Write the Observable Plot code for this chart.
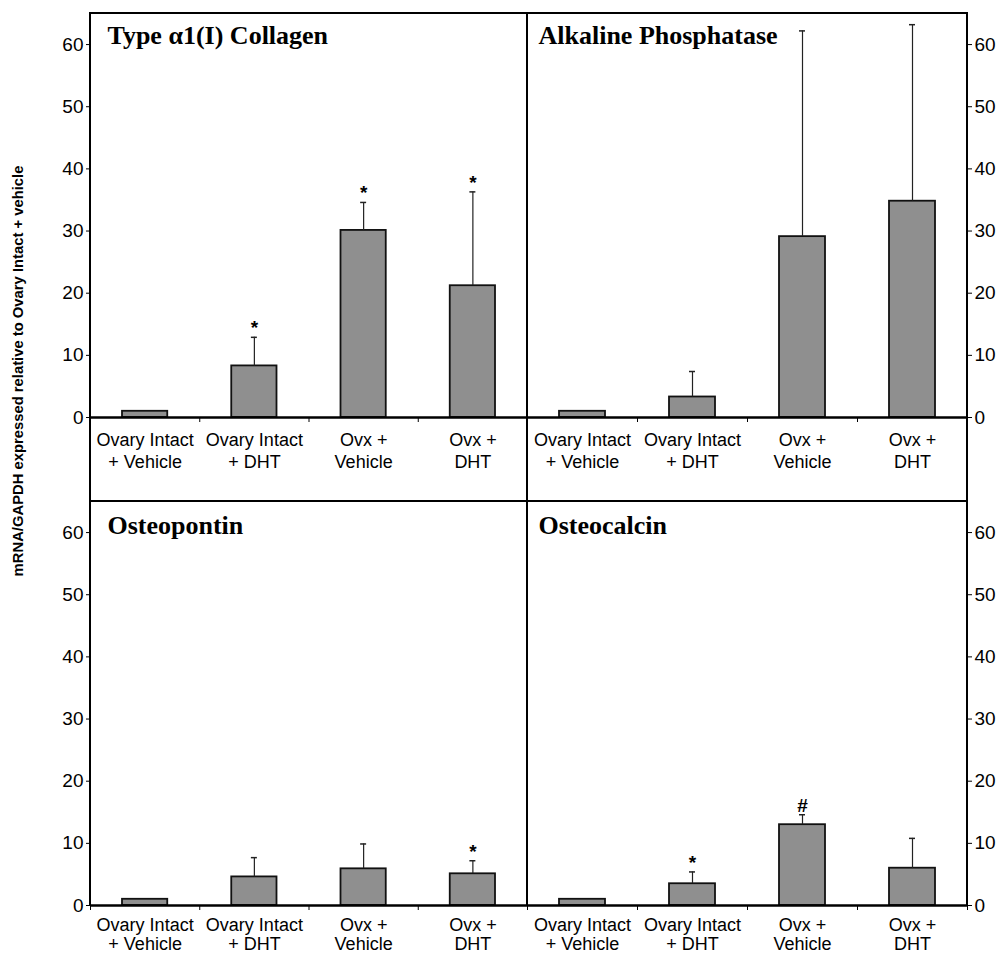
<!DOCTYPE html>
<html><head><meta charset="utf-8">
<script src="https://cdn.jsdelivr.net/npm/d3@7"></script>
<script src="https://cdn.jsdelivr.net/npm/@observablehq/plot@0.6"></script>
<style>
body{margin:0;background:#fff;}
#root{position:relative;width:1000px;height:956px;overflow:hidden;font-family:"Liberation Sans",Arial,sans-serif;}
.panel{position:absolute;}
.line{position:absolute;background:#000;}
#ylabel{position:absolute;left:18px;top:371px;transform:translate(-50%,-50%) rotate(-90deg);white-space:nowrap;font:bold 14.8px "Liberation Sans",Arial,sans-serif;color:#000;}
</style></head><body>
<div id="root">
  <div id="p0" class="panel" style="left:0;top:0"></div>
  <div id="p1" class="panel" style="left:527px;top:0"></div>
  <div id="p2" class="panel" style="left:0;top:491px"></div>
  <div id="p3" class="panel" style="left:527px;top:491px"></div>
  <div class="line" style="left:90px;top:12px;width:878px;height:2px"></div>
  <div class="line" style="left:89px;top:12px;width:2px;height:893px"></div>
  <div class="line" style="left:526px;top:12px;width:2px;height:893px"></div>
  <div class="line" style="left:966px;top:12px;width:2px;height:893px"></div>
  <div class="line" style="left:90px;top:500px;width:878px;height:2px"></div>
  <div id="ylabel">mRNA/GAPDH expressed relative to Ovary Intact + vehicle</div>
</div>
<script>
const groups = ["Ovary Intact\n+ Vehicle", "Ovary Intact\n+ DHT", "Ovx +\nVehicle", "Ovx +\nDHT"];
const titles = ["Type α1(I) Collagen", "Alkaline Phosphatase", "Osteopontin", "Osteocalcin"];
const yTicks = [0, 10, 20, 30, 40, 50, 60];

const collagenMean = [1, 8.3, 30.1, 21.2];
const collagenErr  = [0, 4.6, 4.5, 15.1];
const collagenSig  = ["", "*", "*", "*"];

const alpMean = [1, 3.3, 29.1, 34.8];
const alpErr  = [0, 4.1, 33.1, 28.4];
const alpSig  = ["", "", "", ""];

const opnMean = [1, 4.6, 5.9, 5.1];
const opnErr  = [0, 3.1, 4.0, 2.1];
const opnSig  = ["", "", "", "*"];

const ocnMean = [1, 3.5, 13.0, 6.0];
const ocnErr  = [0, 1.9, 1.6, 4.8];
const ocnSig  = ["", "*", "#", ""];

function panel(title, means, errs, sigs, side, row) {
  const data = groups.map((g, i) => ({i, g, v: means[i], hi: means[i] + errs[i], sig: sigs[i]}));
  const withErr = data.filter(d => d.hi > d.v);
  const isLeft = side === "left";
  const top = row === 0;
  return Plot.plot({
    width: isLeft ? 527 : 473,
    height: top ? 501 : 465,
    marginTop: top ? 13 : 10,
    marginBottom: top ? 84 : 51,
    marginLeft: isLeft ? 90 : 0,
    marginRight: isLeft ? 0 : 33,
    x: {domain: [0, groups.length], label: null},
    y: {domain: [0, 65], label: null},
    style: {background: "transparent", color: "black", fontFamily: "'Liberation Sans', Arial, sans-serif", overflow: "visible"},
    marks: [
      Plot.rectY(data, {x1: "i", x2: d => d.i + 1, y: "v", insetLeft: 32, insetRight: 32, fill: "#8f8f8f", stroke: "#111", strokeWidth: 1.8}),
      Plot.ruleX(withErr, {x: d => d.i + 0.5, y1: "v", y2: "hi", stroke: "#222", strokeWidth: 1.2}),
      Plot.ruleY(withErr, {y: "hi", x1: d => d.i + 0.5, x2: d => d.i + 0.5, insetLeft: -3, insetRight: -3, stroke: "#222", strokeWidth: 1.5}),
      Plot.text(data.filter(d => d.sig), {x: d => d.i + 0.5, y: "hi", text: "sig", lineAnchor: "bottom", dy: -3, fontSize: 19, fontWeight: "bold"}),
      Plot.ruleY([0], {stroke: "#000", strokeWidth: 2.5}),
      Plot.axisY({anchor: side, ticks: yTicks, tickSize: 4, tickPadding: 3, fontSize: 19, label: null}),
      Plot.axisX({ticks: d3.range(groups.length + 1), tickSize: 5, tickFormat: () => "", label: null}),
      Plot.text(data, {x: d => d.i + 0.5, y: 0, text: "g", lineAnchor: "top", dy: top ? 14 : 11, fontSize: 18, lineHeight: top ? 1.17 : 1.1}),
      Plot.text([title], {frameAnchor: "top-left", dx: isLeft ? 17 : 11, dy: top ? 12 : 14, lineAnchor: "top",
        fontFamily: "'Liberation Serif', 'Times New Roman', serif", fontWeight: "bold", fontSize: 26})
    ]
  });
}

document.getElementById("p0").append(panel(titles[0], collagenMean, collagenErr, collagenSig, "left", 0));
document.getElementById("p1").append(panel(titles[1], alpMean, alpErr, alpSig, "right", 0));
document.getElementById("p2").append(panel(titles[2], opnMean, opnErr, opnSig, "left", 1));
document.getElementById("p3").append(panel(titles[3], ocnMean, ocnErr, ocnSig, "right", 1));
</script>
</body></html>
